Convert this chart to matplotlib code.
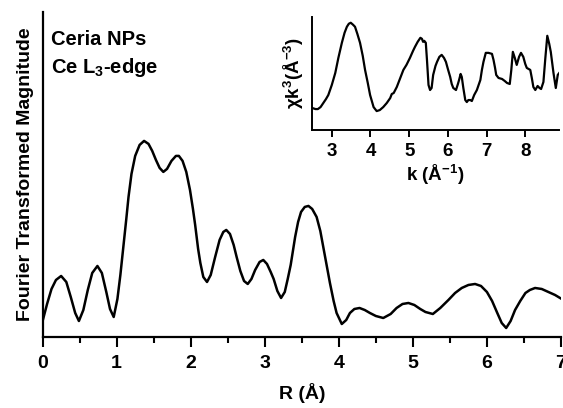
import numpy as np
import matplotlib
matplotlib.use('Agg')
import matplotlib.pyplot as plt

# ---- main FT magnitude (arbitrary units) ----
r_vals = [0.00, 0.06, 0.12, 0.18, 0.25, 0.32, 0.38, 0.44, 0.49, 0.55, 0.61, 0.67,
          0.74, 0.80, 0.86, 0.91, 0.96, 1.01, 1.05, 1.09, 1.13, 1.16, 1.20, 1.25,
          1.31, 1.37, 1.43, 1.48, 1.53, 1.58, 1.63, 1.68, 1.74, 1.80, 1.84, 1.89,
          1.94, 1.99, 2.03, 2.06, 2.10, 2.13, 2.17, 2.22, 2.27, 2.33, 2.39, 2.44,
          2.48, 2.53, 2.58, 2.62, 2.67, 2.72, 2.77, 2.82, 2.87, 2.93, 2.98, 3.03,
          3.08, 3.12, 3.17, 3.22, 3.27, 3.31, 3.35, 3.41, 3.45, 3.49, 3.54, 3.59,
          3.64, 3.70, 3.75, 3.79, 3.84, 3.88, 3.93, 3.97, 4.04, 4.10, 4.15, 4.21,
          4.28, 4.35, 4.42, 4.50, 4.60, 4.70, 4.78, 4.86, 4.94, 5.02, 5.10, 5.17,
          5.27, 5.37, 5.48, 5.57, 5.66, 5.75, 5.84, 5.92, 6.00, 6.07, 6.14, 6.20,
          6.26, 6.32, 6.38, 6.45, 6.52, 6.58, 6.65, 6.74, 6.83, 6.92, 7.01]
ft_mag = [16, 33, 48, 57, 61, 55, 40, 24, 16, 27, 47, 64,
          71, 64, 45, 28, 20, 38, 62, 90, 118, 140, 163, 181,
          192, 196, 193, 186, 177, 169, 165, 168, 176, 181, 181, 176,
          165, 147, 128, 112, 88, 74, 60, 55, 62, 80, 97, 105,
          107, 103, 92, 80, 66, 56, 53, 58, 67, 75, 77, 73,
          65, 58, 46, 39, 45, 58, 72, 100, 115, 125, 130, 131,
          128, 120, 106, 90, 70, 54, 36, 24, 13, 17, 24, 28,
          29, 27, 24, 21, 19, 23, 29, 33, 34, 32, 28, 25,
          23, 29, 37, 44, 49, 52, 53, 51, 45, 36, 24, 14,
          9, 16, 27, 36, 44, 47, 49, 48, 45, 42, 38]

# ---- inset: k^3 weighted chi(k) ----
k_vals = [2.50, 2.58, 2.64, 2.71, 2.78, 2.85, 2.91, 3.00, 3.09, 3.17, 3.26, 3.33,
          3.39, 3.44, 3.49, 3.55, 3.60, 3.66, 3.73, 3.80, 3.86, 3.93, 3.99, 4.08,
          4.16, 4.24, 4.33, 4.42, 4.51, 4.55, 4.60, 4.68, 4.76, 4.85, 4.93, 5.02,
          5.10, 5.15, 5.22, 5.29, 5.33, 5.36, 5.39, 5.43, 5.46, 5.50, 5.54, 5.58,
          5.62, 5.68, 5.72, 5.78, 5.84, 5.90, 5.95, 6.00, 6.06, 6.10, 6.14, 6.21,
          6.26, 6.29, 6.33, 6.36, 6.40, 6.45, 6.49, 6.53, 6.58, 6.62, 6.68, 6.75,
          6.84, 6.88, 6.92, 6.98, 7.05, 7.14, 7.18, 7.22, 7.25, 7.31, 7.40, 7.47,
          7.53, 7.60, 7.64, 7.68, 7.73, 7.78, 7.84, 7.89, 7.95, 8.00, 8.04, 8.13,
          8.17, 8.21, 8.26, 8.32, 8.37, 8.41, 8.47, 8.52, 8.57, 8.62, 8.66, 8.73,
          8.79, 8.84, 8.88]
chi_k3 = [22, 21, 21, 23, 27, 31, 35, 45, 57, 72, 87, 97,
          103, 106, 107, 105, 103, 96, 87, 74, 60, 47, 35, 23,
          19, 20, 23, 27, 32, 36, 37, 43, 51, 60, 65, 72,
          79, 83, 88, 92, 91, 88, 89, 87, 70, 45, 40, 42,
          55, 64, 68, 73, 75, 72, 68, 61, 53, 46, 42, 40,
          46, 50, 56, 53, 42, 30, 28, 30, 30, 29, 35, 40,
          50, 60, 68, 77, 77, 76, 70, 62, 55, 52, 51, 49,
          47, 46, 60, 78, 72, 65, 73, 77, 73, 66, 62, 60,
          52, 43, 40, 44, 42, 41, 48, 72, 94, 86, 78, 57,
          42, 55, 57]

main_ticks = [0, 1, 2, 3, 4, 5, 6, 7]
inset_ticks = [3, 4, 5, 6, 7, 8]

plt.rcParams['font.family'] = ['Liberation Sans', 'DejaVu Sans']
plt.rcParams['font.weight'] = 'bold'
plt.rcParams['mathtext.fontset'] = 'custom'
plt.rcParams['mathtext.rm'] = 'Liberation Sans:bold'
plt.rcParams['mathtext.it'] = 'Liberation Sans:bold'
plt.rcParams['mathtext.bf'] = 'Liberation Sans:bold'
plt.rcParams['mathtext.default'] = 'rm'

fig = plt.figure(figsize=(5.63, 4.08), dpi=100)

# main panel
ax = fig.add_axes([0.0757, 0.174, 0.9207, 0.797])
ax.plot(r_vals, ft_mag, color='black', lw=1.8)
ax.set_xlim(0, 7)
ax.set_ylim(0, 325)
ax.set_xticks(main_ticks)
ax.set_xticks(np.arange(0.5, 7, 1.0), minor=True)
ax.set_yticks([])
for s in ['top', 'right']:
    ax.spines[s].set_visible(False)
for s in ['left', 'bottom']:
    ax.spines[s].set_linewidth(1.6)
ax.tick_params(axis='x', which='major', direction='out', length=7, width=1.5,
               labelsize=14, pad=6)
ax.tick_params(axis='x', which='minor', direction='out', length=4.5, width=1.5)
ax.set_xlabel('R (Å)', fontsize=14, fontweight='bold', labelpad=8)
ax.set_ylabel('Fourier Transformed Magnitude', fontsize=14, fontweight='bold',
              labelpad=6)
ax.text(0.017, 0.945, 'Ceria NPs', transform=ax.transAxes, fontsize=14.5,
        fontweight='bold', va='top')
ax.text(0.017, 0.865, 'Ce L$_3$-edge', transform=ax.transAxes, fontsize=14.5,
        fontweight='bold', va='top')

# inset
ins = fig.add_axes([0.5536, 0.681, 0.4398, 0.278])
ins.plot(k_vals, chi_k3, color='black', lw=1.6)
ins.set_xlim(2.48, 8.88)
ins.set_ylim(0, 113)
ins.set_xticks(inset_ticks)
ins.set_yticks([])
for s in ['top', 'right']:
    ins.spines[s].set_visible(False)
for s in ['left', 'bottom']:
    ins.spines[s].set_linewidth(1.4)
ins.tick_params(axis='x', direction='out', length=5, width=1.4, labelsize=13.5, pad=4)
ins.set_xlabel('k (Å$^{-1}$)', fontsize=13.5, fontweight='bold', labelpad=2)
ins.set_ylabel(r'$\chi$k$^3$(Å$^{-3}$)', fontsize=13.5, fontweight='bold', labelpad=4)

fig.savefig('out.png', dpi=100)
